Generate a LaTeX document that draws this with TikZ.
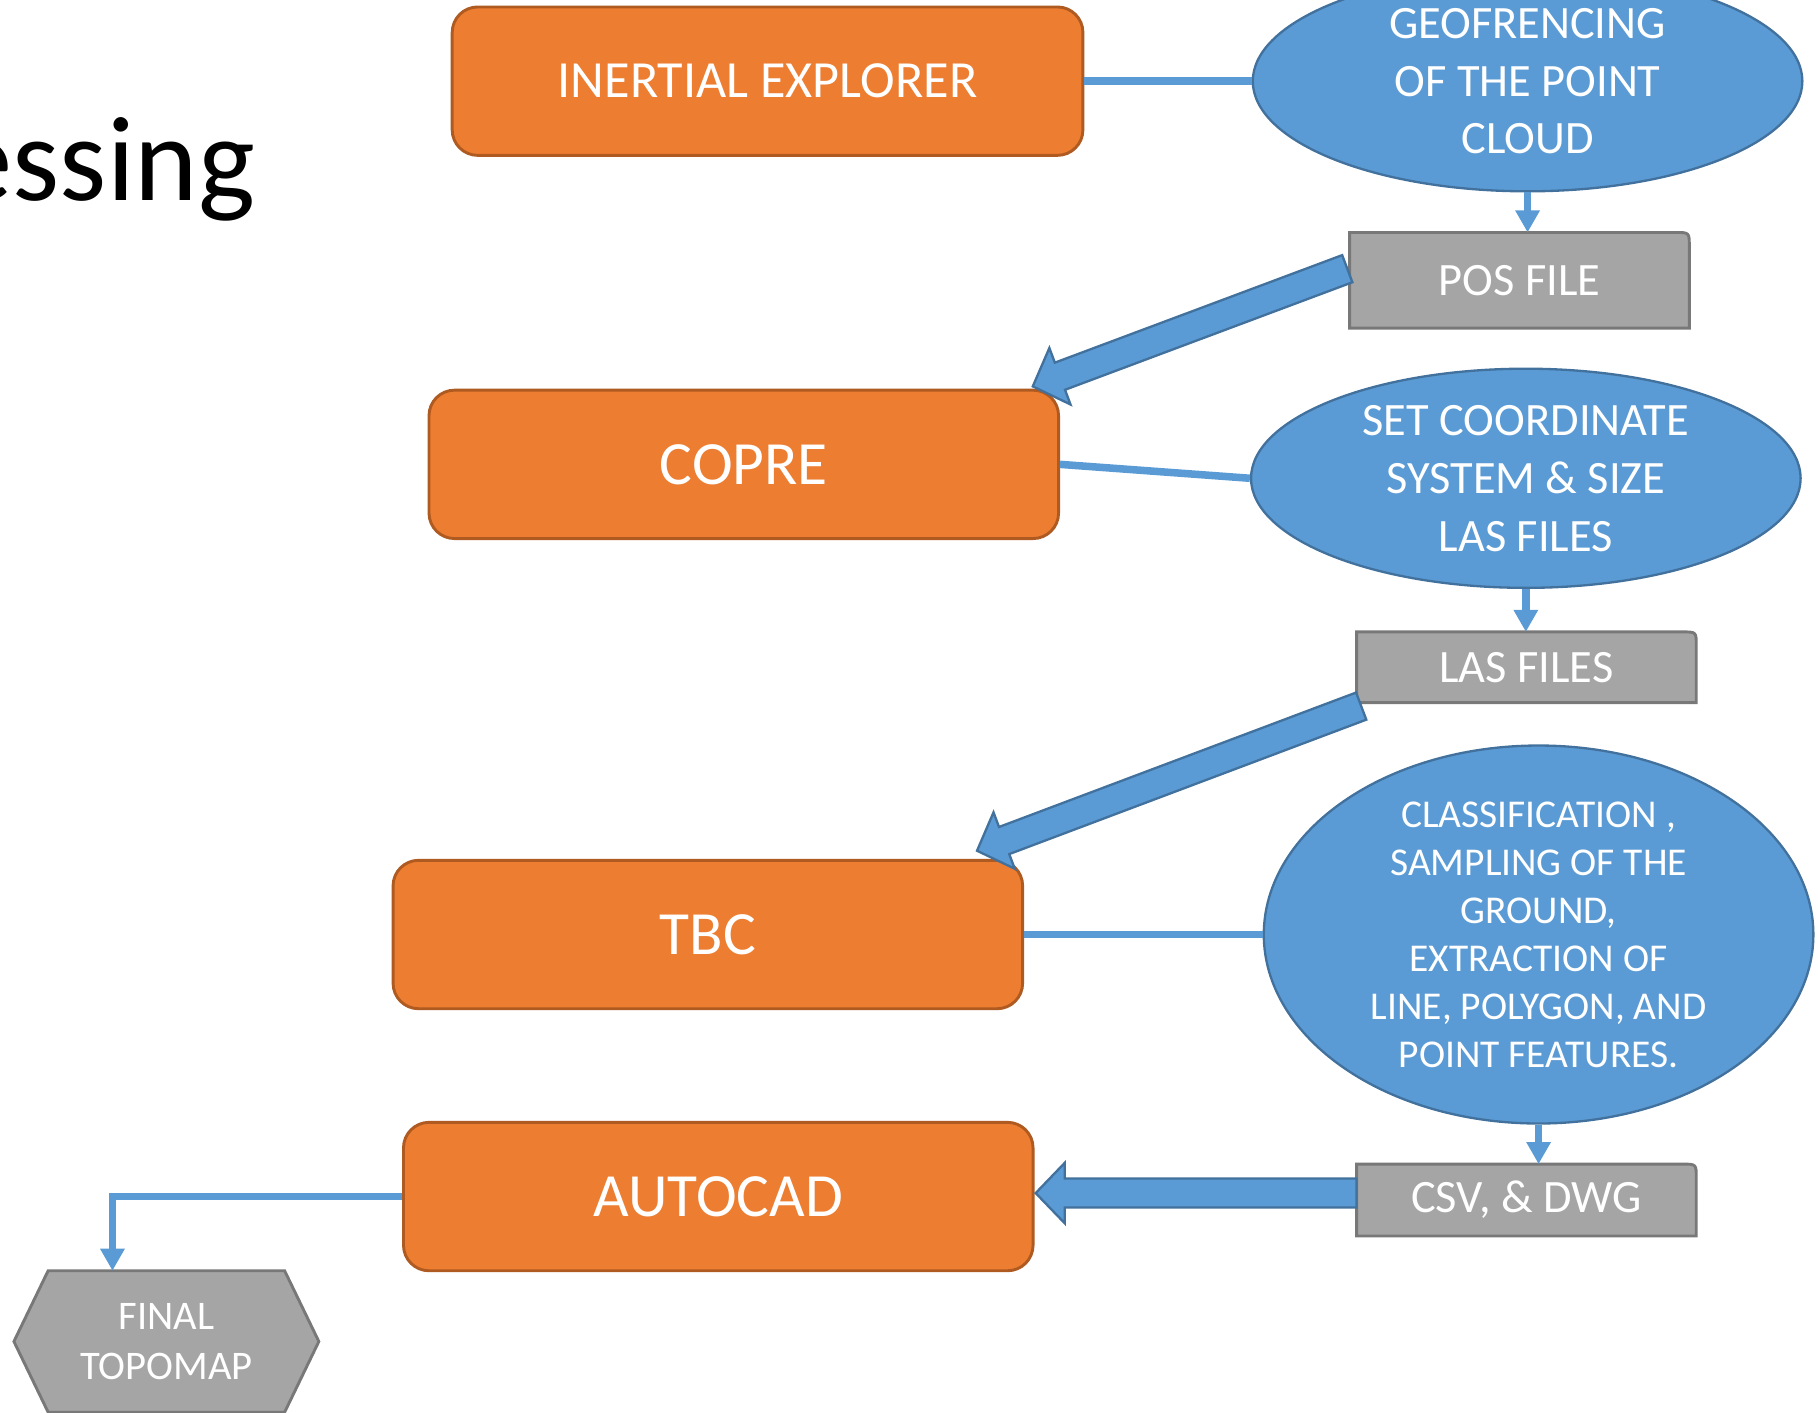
\documentclass[tikz,border=0pt]{standalone}
\usepackage{fontspec}
\setmainfont{Carlito}
\usetikzlibrary{shapes.geometric,arrows.meta,calc,backgrounds}
\definecolor{oran}{HTML}{ED7D31}
\definecolor{oranb}{HTML}{AE5A21}
\definecolor{blu}{HTML}{5B9BD5}
\definecolor{blub}{HTML}{41719C}
\definecolor{gry}{HTML}{A5A5A5}
\definecolor{gryb}{HTML}{787878}
\newcommand\blockarrow[2]{%
  \coordinate (#1h) at ($(#2)!25pt!(#1)$);
  \filldraw[blockstyle]
    ($(#1)!12.5pt!90:(#2)$) -- ($(#1h)!12.5pt!90:(#2)$) -- ($(#1h)!26pt!90:(#2)$)
    -- (#2) -- ($(#1h)!26pt!-90:(#2)$) -- ($(#1h)!12.5pt!-90:(#2)$)
    -- ($(#1)!12.5pt!-90:(#2)$) -- cycle;}
\tikzset{
  obox/.style={rectangle, rounded corners=22pt, fill=oran, draw=oranb, line width=2.5pt,
    minimum width=543pt, minimum height=128pt, text=white, inner sep=0pt},
  bell/.style={ellipse, fill=blu, draw=blub, line width=2pt, text=white, inner sep=0pt,
    align=center, minimum width=474pt},
  gshape/.style={rectangle, minimum width=293pt, text=white, inner sep=0pt, outer sep=0pt,
    font=\fontsize{40}{50}\selectfont},
  gfill/.style={fill=gry, draw=gryb, line width=2.5pt},
  conn/.style={draw=blu, line width=6.5pt},
  tip/.style={-{Triangle[width=20pt,length=19pt]}},
  blockstyle/.style={fill=blu, draw=blub, line width=2pt, line join=miter},
  fbig/.style={font=\fontsize{53}{64}\selectfont},
}
\begin{document}
\begin{tikzpicture}[x=1pt,y=-1pt]
\useasboundingbox (0,0) rectangle (1568,1218);
% title fragment
\node[font=\fontsize{104}{120}\selectfont, anchor=base east, inner sep=0pt] (title) at (220,172.5) {essing};
% orange boxes
\node[obox, minimum width=544pt, font=\fontsize{45}{55}\selectfont] (ie) at (662,70) {INERTIAL EXPLORER};
\node[obox, fbig] (copre) at (641.5,400.5) {COPRE};
\node[obox, fbig] (tbc) at (610.5,806) {TBC};
\node[obox, fbig] (ac) at (619.5,1032) {AUTOCAD};
% ellipses
\node[bell, minimum height=190pt, font=\fontsize{40}{49.5}\selectfont] (e1) at (1317.5,70) {GEOFRENCING\\OF THE POINT\\CLOUD};
\node[bell, minimum height=189pt, font=\fontsize{40}{50}\selectfont] (e2) at (1316,412.5) {SET COORDINATE\\SYSTEM \& SIZE\\LAS FILES};
\node[bell, minimum height=326pt, font=\fontsize{34}{41.4}\selectfont] (e3) at (1327,806) {CLASSIFICATION ,\\SAMPLING OF THE\\GROUND,\\EXTRACTION OF\\LINE, POLYGON, AND\\POINT FEATURES.};
% gray boxes
\node[gshape, minimum height=82.5pt] (pos) at (1310.5,241.75) {POS FILE};
\node[gshape, minimum height=61pt] (las) at (1316.5,575.5) {LAS FILES};
\node[gshape, minimum height=62pt] (csv) at (1316.5,1035) {CSV, \& DWG};
\node[inner sep=0pt, outer sep=0pt, minimum width=263pt, minimum height=122pt, text=white,
  align=center, font=\fontsize{35}{43}\selectfont] (fin) at (143.5,1157) {FINAL\\TOPOMAP};
\begin{scope}[on background layer]
  \foreach \b in {pos,las,csv}{
    \draw[gfill] (\b.south west) -- (\b.north west) -- ($(\b.north east)+(-12,0)$)
      .. controls (\b.north east) .. ($(\b.north east)+(0,12)$) -- (\b.south east) -- cycle;}
  \draw[gfill, line join=miter] (fin.west) -- ($(fin.north west)+(29.5,0)$) -- ($(fin.north east)+(-29.5,0)$)
    -- (fin.east) -- ($(fin.south east)+(-29.5,0)$) -- ($(fin.south west)+(29.5,0)$) -- cycle;
\end{scope}
% thin connectors
\draw[conn] (ie.east) -- (e1.west);
\draw[conn] (copre.east) -- (e2.west);
\draw[conn] (tbc.east) -- (e3.west);
\draw[conn, tip] (e1.south) -- (e1.south |- pos.north);
\draw[conn, tip] (e2.south) -- (e2.south |- las.north);
\draw[conn, tip] (e3.south) -- (e3.south |- csv.north);
\coordinate (finin) at ($(fin.north west)+(85,0)$);
\draw[conn, tip] (ac.west) -| (finin);
% block arrows
\coordinate (a1s) at ($(pos.west)+(-2,-10)$);
\coordinate (a1e) at ($(copre.north east)+(-23.5,-2)$);
\coordinate (a2s) at ($(las.south west)+(4,3)$);
\coordinate (a2e) at ($(tbc.north east)+(-40.6,-7)$);
\coordinate (a3s) at ($(csv.west)+(0,-6)$);
\coordinate (a3e) at ($(ac.east)+(1,-3)$);
\blockarrow{a1s}{a1e}
\blockarrow{a2s}{a2e}
\blockarrow{a3s}{a3e}
\end{tikzpicture}
\end{document}
